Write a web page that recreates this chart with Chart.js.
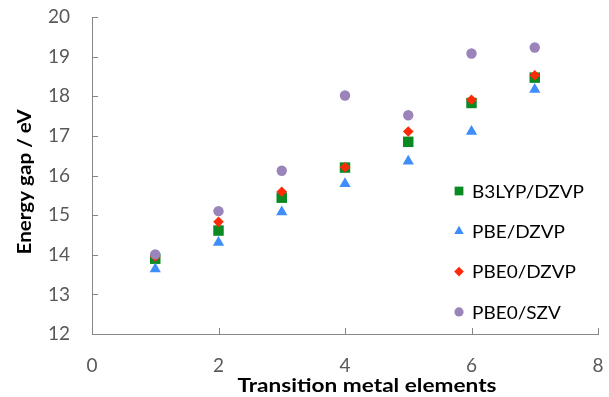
<!DOCTYPE html>
<html>
<head>
<meta charset="utf-8">
<script src="https://cdn.jsdelivr.net/npm/chart.js@4.4.1/dist/chart.umd.min.js"></script>
<style>
  body { margin: 0; background: #fff; }
</style>
</head>
<body>
<canvas id="gapChart" width="609" height="397"></canvas>
<script>
// values
const elements = [1, 2, 3, 4, 5, 6, 7];
const b3lypDzvp = [13.90, 14.61, 15.44, 16.20, 16.85, 17.83, 18.47];
const pbeDzvp   = [13.64, 14.31, 15.08, 15.79, 16.36, 17.11, 18.17];
const pbe0Dzvp  = [13.95, 14.83, 15.59, 16.21, 17.11, 17.91, 18.53];
const pbe0Szv   = [14.01, 15.10, 16.12, 18.02, 17.52, 19.08, 19.23];

const seriesNames = ['B3LYP/DZVP', 'PBE/DZVP', 'PBE0/DZVP', 'PBE0/SZV'];
const xTitle = 'Transition metal elements';
const yTitle = 'Energy gap / eV';

const FONT = 'Lato, "Open Sans", sans-serif';
const AXIS_GREY = '#878787';

const toPoints = vals => vals.map((v, i) => ({ x: elements[i], y: v }));

// the source figure is a little wider than tall, so text is stretched to fit
const stretchedText = (ctx, text, x, y, sx) => {
  ctx.save();
  ctx.translate(x, y);
  ctx.scale(sx, 1);
  ctx.fillText(text, 0, 0);
  ctx.restore();
};

/* axis ticks (inward), titles and the legend inside the plot */
const decor = {
  id: 'decor',
  beforeDatasetsDraw(chart) {
    const ctx = chart.ctx;
    const xs = chart.scales.x, ys = chart.scales.y;
    const area = chart.chartArea;
    ctx.save();
    ctx.strokeStyle = AXIS_GREY;
    ctx.lineWidth = 1;
    ctx.beginPath();
    ys.ticks.forEach(t => {
      const py = Math.round(ys.getPixelForValue(t.value)) + 0.5;
      ctx.moveTo(area.left, py);
      ctx.lineTo(area.left + 6, py);
    });
    xs.ticks.forEach(t => {
      const px = Math.round(xs.getPixelForValue(t.value)) + 0.5;
      ctx.moveTo(px, area.bottom);
      ctx.lineTo(px, area.bottom - 6);
    });
    ctx.stroke();
    ctx.restore();
  },
  afterDraw(chart) {
    const ctx = chart.ctx;
    ctx.save();
    // axis titles
    ctx.fillStyle = '#000';
    ctx.textAlign = 'center';
    ctx.textBaseline = 'middle';
    ctx.font = 'bold 18px ' + FONT;
    stretchedText(ctx, xTitle, 367, 386, 259 / ctx.measureText(xTitle).width);
    ctx.save();
    ctx.translate(25, 182);
    ctx.rotate(-Math.PI / 2);
    stretchedText(ctx, yTitle, 0, 0, 145 / ctx.measureText(yTitle).width);
    ctx.restore();
    ctx.restore();

    // legend
    ctx.save();
    ctx.font = '18px ' + FONT;
    ctx.textAlign = 'left';
    ctx.textBaseline = 'middle';
    const sx = 112 / ctx.measureText(seriesNames[0]).width;
    const lx = 459, ly0 = 191, step = 40.3;
    chart.data.datasets.forEach((ds, i) => {
      const y = ly0 + i * step;
      ctx.fillStyle = ds.backgroundColor;
      Chart.helpers.drawPoint(ctx, {
        pointStyle: ds.pointStyle,
        radius: ds.legendRadius,
        rotation: 0,
        borderWidth: 0
      }, lx, y);
      ctx.fillStyle = '#000';
      stretchedText(ctx, ds.label, 472, y + 1, sx);
    });
    ctx.restore();
  }
};

new Chart(document.getElementById('gapChart'), {
  type: 'scatter',
  data: {
    datasets: [
      { label: seriesNames[0], data: toPoints(b3lypDzvp), pointStyle: 'rect',
        backgroundColor: '#0a8a23', pointRadius: 7.4, legendRadius: 6.2, order: 4 },
      { label: seriesNames[1], data: toPoints(pbeDzvp), pointStyle: 'triangle',
        backgroundColor: '#3f8df8', pointRadius: 6.5, legendRadius: 5.5, order: 3 },
      { label: seriesNames[2], data: toPoints(pbe0Dzvp), pointStyle: 'rectRot',
        backgroundColor: '#fc2a0a', pointRadius: 5.3, legendRadius: 4.8, order: 2 },
      { label: seriesNames[3], data: toPoints(pbe0Szv), pointStyle: 'circle',
        backgroundColor: '#9a84ba', pointRadius: 5.2, legendRadius: 4.6, order: 1 }
    ].map(ds => Object.assign(ds, { borderWidth: 0, pointBorderWidth: 0, pointHoverRadius: ds.pointRadius }))
  },
  options: {
    responsive: false,
    animation: false,
    devicePixelRatio: 1,
    layout: { padding: { top: 17, right: 11, left: 0, bottom: 0 } },
    plugins: {
      legend: { display: false },
      tooltip: { enabled: false }
    },
    scales: {
      x: {
        type: 'linear',
        min: 0, max: 8,
        afterFit: s => { s.height = 63; s.paddingLeft = 0; s.paddingRight = 0; },
        ticks: { stepSize: 2, color: '#595959', padding: 20, font: { family: FONT, size: 19 } },
        grid: { display: false, drawTicks: false },
        border: { display: true, color: AXIS_GREY, width: 1 }
      },
      y: {
        type: 'linear',
        min: 12, max: 20,
        afterFit: s => { s.width = 92; s.paddingTop = 0; s.paddingBottom = 0; },
        ticks: { stepSize: 1, color: '#595959', padding: 22, font: { family: FONT, size: 19 } },
        grid: { display: false, drawTicks: false },
        border: { display: true, color: AXIS_GREY, width: 1 }
      }
    }
  },
  plugins: [decor]
});
</script>
</body>
</html>
